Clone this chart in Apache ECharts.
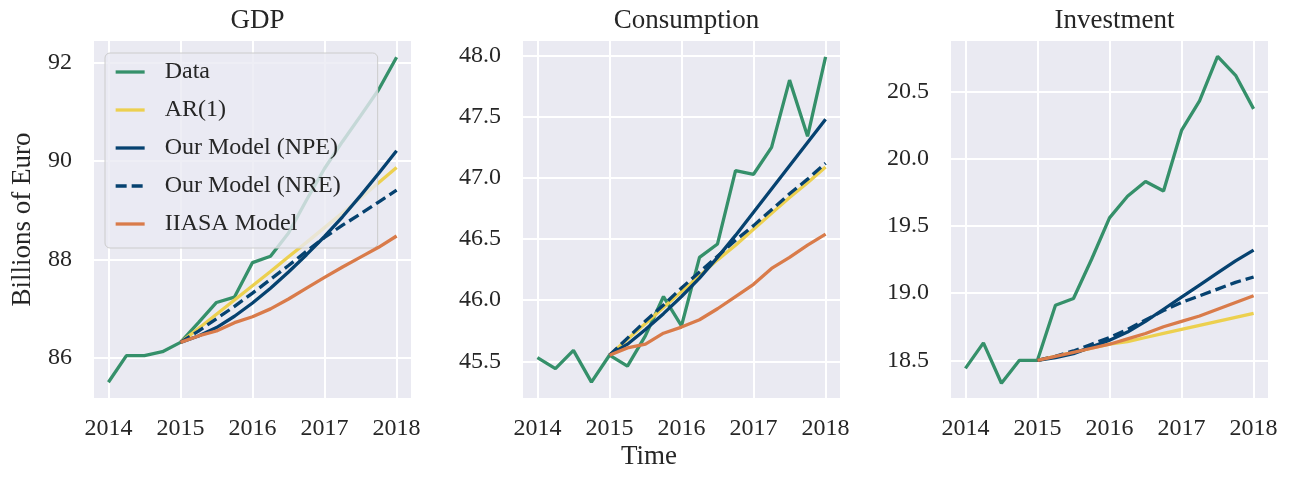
<!DOCTYPE html>
<html>
<head>
<meta charset="utf-8">
<script src="https://cdn.jsdelivr.net/npm/echarts@6/dist/echarts.min.js"></script>
<style>
  html, body { margin: 0; padding: 0; background: #ffffff; }
  #chart { width: 1299px; height: 481px; }
</style>
</head>
<body>
<div id="chart"></div>
<script>
// quarterly time axis
const quarters = [2014, 2014.25, 2014.5, 2014.75, 2015, 2015.25, 2015.5, 2015.75,
  2016, 2016.25, 2016.5, 2016.75, 2017, 2017.25, 2017.5, 2017.75, 2018]
const yearTicks = [2014, 2015, 2016, 2017, 2018]

const panelTitles = ['GDP', 'Consumption', 'Investment']
const seriesNames = ['Data', 'AR(1)', 'Our Model (NPE)', 'Our Model (NRE)', 'IIASA Model']

// GDP (billions of euro)
const gdpData = [85.51, 86.05, 86.05, 86.13, 86.32, 86.72, 87.13, 87.24, 87.94,
  88.07, 88.54, 89.21, 89.85, 90.4, 90.92, 91.45, 92.11]
const gdpAR = [86.32, 86.6, 86.89, 87.18, 87.47, 87.76, 88.06, 88.35, 88.65, 88.95, 89.25, 89.56, 89.87]
const gdpNPE = [86.32, 86.45, 86.62, 86.85, 87.12, 87.42, 87.75, 88.1, 88.47, 88.87, 89.3, 89.75, 90.21]
const gdpNRE = [86.32, 86.55, 86.8, 87.05, 87.32, 87.6, 87.88, 88.17, 88.45, 88.7, 88.93, 89.17, 89.41]
const gdpIIASA = [86.32, 86.45, 86.55, 86.72, 86.84, 87.0, 87.2, 87.42, 87.64, 87.85, 88.05, 88.25, 88.48]
const gdpTicks = [86, 88, 90, 92]

// Consumption
const consData = [45.53, 45.44, 45.59, 45.33, 45.55, 45.46, 45.71, 46.03, 45.79,
  46.35, 46.46, 47.06, 47.03, 47.25, 47.8, 47.34, 47.99]
const consAR = [45.55, 45.68, 45.81, 45.94, 46.07, 46.2, 46.33, 46.45, 46.58, 46.71, 46.84, 46.96, 47.09]
const consNPE = [45.55, 45.64, 45.76, 45.89, 46.03, 46.18, 46.35, 46.53, 46.72, 46.91, 47.1, 47.29, 47.48]
const consNRE = [45.55, 45.69, 45.83, 45.96, 46.1, 46.23, 46.36, 46.49, 46.61, 46.74, 46.87, 46.99, 47.12]
const consIIASA = [45.55, 45.61, 45.64, 45.73, 45.78, 45.84, 45.93, 46.03, 46.13, 46.26, 46.35, 46.45, 46.54]
const consTicks = [45.5, 46.0, 46.5, 47.0, 47.5, 48.0]

// Investment
const invData = [18.44, 18.63, 18.33, 18.5, 18.5, 18.91, 18.96, 19.25, 19.56,
  19.72, 19.83, 19.76, 20.21, 20.43, 20.76, 20.62, 20.37]
const invAR = [18.5, 18.53, 18.56, 18.59, 18.62, 18.64, 18.67, 18.7, 18.73, 18.76, 18.79, 18.82, 18.85]
const invNPE = [18.5, 18.52, 18.55, 18.6, 18.65, 18.71, 18.79, 18.88, 18.97, 19.06, 19.15, 19.24, 19.32]
const invNRE = [18.5, 18.53, 18.57, 18.62, 18.67, 18.73, 18.8, 18.87, 18.93, 18.98, 19.03, 19.08, 19.12]
const invIIASA = [18.5, 18.53, 18.56, 18.59, 18.62, 18.66, 18.7, 18.75, 18.79, 18.83, 18.88, 18.93, 18.98]
const invTicks = [18.5, 19.0, 19.5, 20.0, 20.5]

const colors = ['#35906a', '#ecd04f', '#064270', '#064270', '#d97b4a']
const font = 'Liberation Serif'
const textColor = '#262626'

const panels = [
  { left: 94, ticks: gdpTicks, min: 85.19, max: 92.44, digits: 0,
    series: [gdpData, gdpAR, gdpNPE, gdpNRE, gdpIIASA] },
  { left: 523, ticks: consTicks, min: 45.2, max: 48.12, digits: 1,
    series: [consData, consAR, consNPE, consNRE, consIIASA] },
  { left: 951, ticks: invTicks, min: 18.22, max: 20.875, digits: 1,
    series: [invData, invAR, invNPE, invNRE, invIIASA] }
]
const plotWidth = 317
const plotTop = 41
const plotHeight = 357

const chart = echarts.init(document.getElementById('chart'))

const grids = []
const xAxes = []
const yAxes = []
const titles = []
const series = []

panels.forEach((p, i) => {
  grids.push({
    left: p.left, top: plotTop, width: plotWidth, height: plotHeight,
    show: true, backgroundColor: '#eaeaf2', borderWidth: 0
  })
  titles.push({
    text: panelTitles[i],
    left: p.left + plotWidth / 2,
    top: 2,
    textAlign: 'center',
    textStyle: { fontFamily: font, fontSize: 27, fontWeight: 'normal', color: textColor }
  })
  xAxes.push({
    type: 'value', gridIndex: i, min: 2013.8, max: 2018.2,
    axisLine: { show: false },
    axisTick: { show: false, customValues: yearTicks },
    axisLabel: {
      customValues: yearTicks, margin: 19,
      fontFamily: font, fontSize: 24, color: textColor,
      formatter: v => String(v)
    },
    splitLine: { show: true, lineStyle: { color: '#ffffff', width: 2 } }
  })
  yAxes.push({
    type: 'value', gridIndex: i, min: p.min, max: p.max,
    name: i === 0 ? 'Billions of Euro' : '',
    nameLocation: 'middle',
    nameGap: 58,
    nameTextStyle: { fontFamily: font, fontSize: 27, color: textColor },
    axisLine: { show: false },
    axisTick: { show: false, customValues: p.ticks },
    axisLabel: {
      customValues: p.ticks, margin: 22,
      fontFamily: font, fontSize: 24, color: textColor,
      formatter: v => v.toFixed(p.digits)
    },
    splitLine: { show: true, lineStyle: { color: '#ffffff', width: 2 } }
  })
  p.series.forEach((vals, k) => {
    const xs = k === 0 ? quarters : quarters.slice(4)
    series.push({
      name: seriesNames[k],
      type: 'line',
      xAxisIndex: i,
      yAxisIndex: i,
      data: vals.map((v, j) => [xs[j], v]),
      symbol: 'none',
      color: colors[k],
      lineStyle: { width: 3.3, color: colors[k], type: k === 3 ? [11, 5] : 'solid' },
      z: 2 + k
    })
  })
})

titles.push({
  text: 'Time',
  left: 644,
  top: 438,
  textAlign: 'center',
  textStyle: { fontFamily: font, fontSize: 27, fontWeight: 'normal', color: textColor }
})

const option = {
  backgroundColor: '#ffffff',
  animation: false,
  title: titles,
  grid: grids,
  xAxis: xAxes,
  yAxis: yAxes,
  legend: {
    data: seriesNames,
    orient: 'vertical',
    left: 105,
    top: 53,
    padding: [7, 13, 12, 9],
    itemWidth: 29,
    itemHeight: 3,
    itemGap: 14,
    itemStyle: { opacity: 0 },
    lineStyle: { width: 3.3 },
    backgroundColor: 'rgba(234,234,242,0.8)',
    borderColor: '#cccccc',
    borderWidth: 1,
    borderRadius: 5,
    textStyle: {
      fontFamily: font, fontSize: 24, color: textColor,
      lineHeight: 24, width: 200, padding: [0, 0, 0, 15]
    }
  },
  series: series
}

chart.setOption(option)
</script>
</body>
</html>
